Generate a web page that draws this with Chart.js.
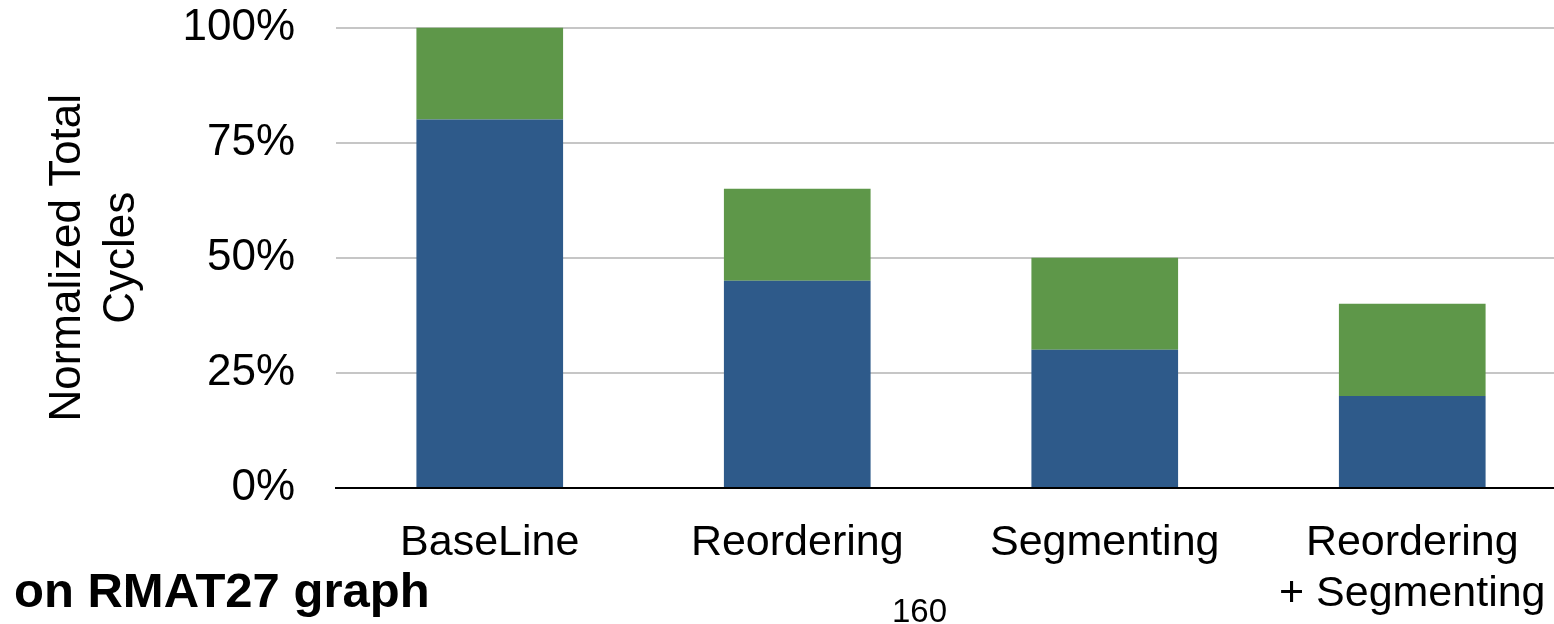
<!DOCTYPE html>
<html>
<head>
<meta charset="utf-8">
<script src="https://cdn.jsdelivr.net/npm/chart.js@4"></script>
<style>
  html, body { margin: 0; padding: 0; background: #ffffff; overflow: hidden; }
  #wrap { position: relative; width: 1554px; height: 624px; overflow: hidden; }
  canvas { position: absolute; left: 0; top: 0; }
  .note { position: absolute; font-family: "Liberation Sans", Arial, Helvetica, sans-serif; color: #000; white-space: nowrap; line-height: 1; }
  #caption { left: 14px; top: 566px; font-size: 49px; font-weight: bold; }
  #page { left: 892px; top: 594px; font-size: 33px; }
</style>
</head>
<body>
<div id="wrap">
  <canvas id="c" width="1566" height="624"></canvas>
  <div class="note" id="caption">on RMAT27 graph</div>
  <div class="note" id="page">160</div>
</div>
<script>
// Categories (multi-line labels as arrays)
const categories = ["BaseLine", "Reordering", "Segmenting", ["Reordering", "+ Segmenting"]];
// Stacked components of normalized total cycles (%)
const lowerPart = [80, 45, 30, 20];
const upperPart = [20, 20, 20, 20];
// Y-axis ticks
const yTicks = [0, 25, 50, 75, 100];

const FONT = '"Liberation Sans", Arial, Helvetica, sans-serif';

new Chart(document.getElementById('c'), {
  type: 'bar',
  data: {
    labels: categories,
    datasets: [
      { data: lowerPart, backgroundColor: '#2e5a8a', borderWidth: 0 },
      { data: upperPart, backgroundColor: '#5e9749', borderWidth: 0 }
    ]
  },
  options: {
    responsive: false,
    animation: false,
    events: [],
    datasets: { bar: { categoryPercentage: 1, barPercentage: 0.477 } },
    layout: { padding: { top: 27.5, left: 0, right: 0, bottom: 0 } },
    plugins: { legend: { display: false }, tooltip: { enabled: false } },
    scales: {
      x: {
        stacked: true,
        grid: { display: false, drawTicks: false },
        border: { display: true, color: '#000000', width: 2 },
        ticks: {
          color: '#000000',
          font: { family: FONT, size: 43, lineHeight: 1.186 },
          padding: 30,
          maxRotation: 0,
          autoSkip: false
        },
        afterFit(scale) {
          scale.height = 136;
          scale.paddingLeft = 0;
          scale.paddingRight = 0;
        }
      },
      y: {
        stacked: true,
        min: 0,
        max: 100,
        afterBuildTicks(scale) { scale.ticks = yTicks.map(v => ({ value: v })); },
        grid: { color: '#c6c6c6', lineWidth: 2, drawTicks: false },
        border: { display: false },
        ticks: {
          color: '#000000',
          font: { family: FONT, size: 44, lineHeight: 1.2 },
          padding: 41,
          callback: v => v + '%'
        },
        title: {
          display: true,
          text: ['Normalized Total', 'Cycles'],
          color: '#000000',
          font: { family: FONT, size: 44, lineHeight: 1.227 },
          padding: { top: 41, bottom: 0 }
        },
        afterFit(scale) {
          scale.width = 336;
          scale.paddingTop = 0;
          scale.paddingBottom = 0;
        }
      }
    }
  }
});
</script>
</body>
</html>
